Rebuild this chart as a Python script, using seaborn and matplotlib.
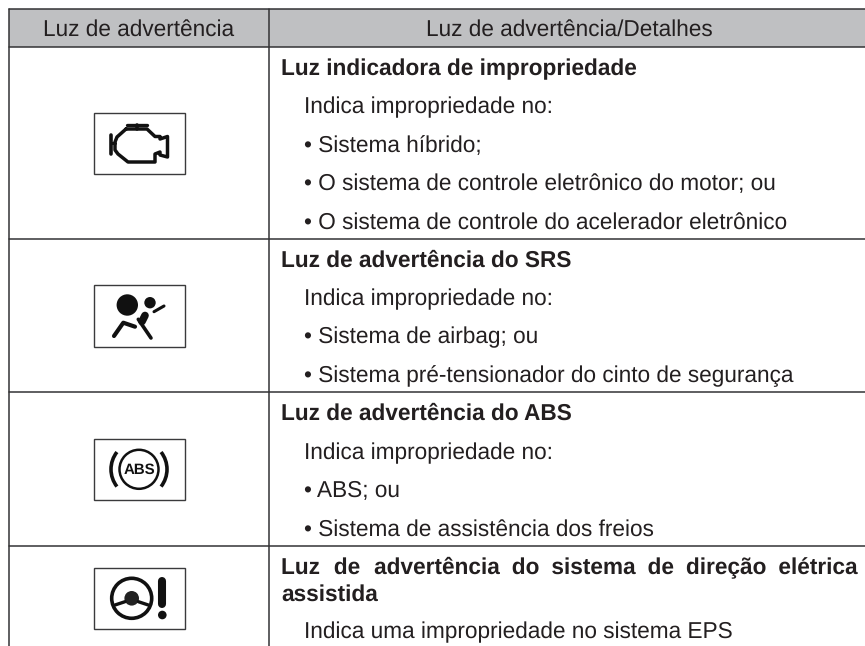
import numpy as np
import pandas as pd
import matplotlib
matplotlib.use("Agg")
import matplotlib.pyplot as plt
import seaborn as sns
from matplotlib.patches import Rectangle, Circle, Arc

# ---------- table content ----------
headers = ["Luz de advertência", "Luz de advertência/Detalhes"]
titles = ["Luz indicadora de impropriedade", "Luz de advertência do SRS", "Luz de advertência do ABS"]
row1_lines = ["Indica impropriedade no:", "• Sistema híbrido;",
              "• O sistema de controle eletrônico do motor; ou",
              "• O sistema de controle do acelerador eletrônico"]
row2_lines = ["Indica impropriedade no:", "• Sistema de airbag; ou",
              "• Sistema pré-tensionador do cinto de segurança"]
row3_lines = ["Indica impropriedade no:", "• ABS; ou", "• Sistema de assistência dos freios"]
row4_title_a = "Luz de advertência do sistema de direção elétrica"
row4_title_b = "assistida"
row4_line = "Indica uma impropriedade no sistema EPS"

# ---------- layout (pixels) ----------
W, H = 865, 646
left, mid = 8.5, 269.3
top, head_bottom = 8.7, 47.3
row_lines = [239, 392.4, 546.2]

sns.set_theme(style="white")
plt.rcParams['font.family'] = ['Liberation Sans', 'DejaVu Sans']
plt.rcParams['text.hinting'] = 'no_hinting'
ink = "#231f20"
fs = 16.3

fig = plt.figure(figsize=(W / 100, H / 100), dpi=100)
ax = fig.add_axes([0, 0, 1, 1])

ax.add_patch(Rectangle((left, top), W - left, head_bottom - top, fc="#bfc0c2", ec="none", zorder=0))

# rules of the table, one line per id
rules = []
for i, (x0, y0, x1, y1) in enumerate(
        [(left, top, W, top), (left, head_bottom, W, head_bottom)]
        + [(left, y, W, y) for y in row_lines]
        + [(left, top, left, H), (mid, top, mid, H)]):
    rules += [dict(id=i, x=x0, y=y0), dict(id=i, x=x1, y=y1)]
sns.lineplot(data=pd.DataFrame(rules), x="x", y="y", units="id", estimator=None,
             color="#333335", lw=1.1, sort=False, ax=ax, legend=False)
ax.set_xlim(0, W)
ax.set_ylim(H, 0)
ax.axis("off")

ax.text(138.2, 36, headers[0], ha="center", va="baseline", fontsize=fs, color=ink)
ax.text(569.5, 36, headers[1], ha="center", va="baseline", fontsize=fs, color=ink)

def line(x, y, s, bold=False):
    return ax.text(x, y, s, ha="left", va="baseline", fontsize=fs, color=ink,
                   fontweight="bold" if bold else "normal")

tx, ix = 281, 304
blocks = [(titles[0], 75, row1_lines, [113.3, 152, 190.3, 229]),
          (titles[1], 266.7, row2_lines, [305, 343.7, 381.7]),
          (titles[2], 419.3, row3_lines, [459.3, 497.3, 536])]
for title, ty, lines, ys in blocks:
    line(tx, ty, title, True)
    for s, y in zip(lines, ys):
        line(ix, y, s)

# justified bold line: one string, wider gaps made with hair spaces
r = fig.canvas.get_renderer()
words = row4_title_a.split()
hair = "\u200a"
just = line(tx, 573.3, row4_title_a, True)
w0 = just.get_window_extent(r).width
just.set_text(row4_title_a.replace(" ", " " + hair))
hair_w = (just.get_window_extent(r).width - w0) / (len(words) - 1)
extra = int(round((858 - tx - w0) / hair_w))
per_gap = [extra // (len(words) - 1) + (1 if i < extra % (len(words) - 1) else 0)
           for i in range(len(words) - 1)]
s = words[0]
for w, n in zip(words[1:], per_gap):
    s += " " + hair * n + w
just.set_text(s)

line(tx, 600.7, row4_title_b, True)
line(ix, 638.7, row4_line)

# ---------- icons ----------
def box(y0, y1):
    ax.add_patch(Rectangle((93.5, y0), 91, y1 - y0, fc="white", ec="#3a3a3c", lw=1.0, zorder=2))

def stroke(xs, ys, lw=2.2, **kw):
    ax.plot(xs, ys, color="#111111", lw=lw, solid_capstyle="round", solid_joinstyle="round", zorder=3, **kw)

for y0, y1 in [(113, 174), (285, 346.5), (439, 500), (568, 629)]:
    box(y0, y1)

# engine
ex = [126, 147, 155, 160, 160, 167.5, 167.5, 160, 160, 155, 155, 128, 118, 115, 115, 117, 126]
ey = [129, 129, 136.5, 136.5, 139, 136.5, 157, 155, 152, 154, 162, 162, 154, 150, 142, 137, 129]
stroke(ex, ey, lw=2.5)
stroke([127, 147], [125.3, 125.3], lw=2.4)
stroke([136.5, 136.5], [125.3, 129], lw=2.6)
stroke([111, 111], [135, 154], lw=2.6)
stroke([111, 115], [143, 143], lw=2.2)

# airbag
ax.add_patch(Circle((127.3, 305), 10.7, fc="#111111", ec="none", zorder=3))
ax.add_patch(Circle((150, 302.7), 5.7, fc="#111111", ec="none", zorder=3))
stroke([154, 164], [311.7, 306], lw=2.2)
stroke([142, 145], [321.5, 315.5], lw=5.5)
stroke([114, 123.3, 135], [336, 322.7, 326.7], lw=3.0)
stroke([138.3, 151], [319.3, 338], lw=2.6)

# ABS
ax.add_patch(Circle((139, 469.3), 19.5, fc="none", ec="#111111", lw=1.8, zorder=3))
ax.text(139, 469.8, "ABS", ha="center", va="center", fontsize=10.8, fontweight="bold", color="#111111", zorder=3)
ax.add_patch(Arc((139, 469.3), 56, 56, theta1=-38, theta2=38, lw=2.6, color="#111111", zorder=3))
ax.add_patch(Arc((139, 469.3), 56, 56, theta1=142, theta2=218, lw=2.6, color="#111111", zorder=3))

# steering wheel
ax.add_patch(Circle((131.7, 598.3), 20, fc="none", ec="#111111", lw=2.6, zorder=3))
ax.add_patch(Circle((131.7, 598.3), 7.3, fc="#222222", ec="none", zorder=3))
stroke([115, 125], [605, 601.7], lw=2.4)
stroke([148.3, 138.4], [605, 601.7], lw=2.4)
stroke([162.3, 162.3], [581, 604], lw=5.8)
ax.add_patch(Circle((162.3, 615), 4.3, fc="#111111", ec="none", zorder=3))

fig.savefig("out.png", dpi=100)
